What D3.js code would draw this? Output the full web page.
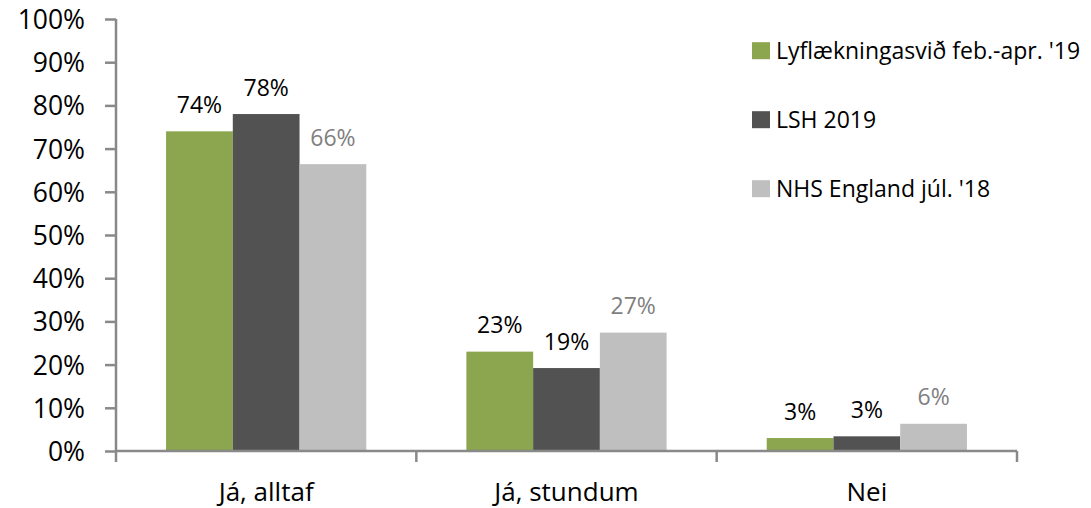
<!DOCTYPE html>
<html>
<head>
<meta charset="utf-8">
<script src="https://cdn.jsdelivr.net/npm/d3@7"></script>
<style>
  html, body { margin: 0; padding: 0; background: #fff; }
  svg { display: block; }
  text { font-family: "Open Sans", sans-serif; }
</style>
</head>
<body>
<svg id="chart" width="1091" height="508"></svg>
<script>
const categories = ["Já, alltaf", "Já, stundum", "Nei"];
const seriesNames = ["Lyflækningasvið feb.-apr. '19", "LSH 2019", "NHS England júl. '18"];
const seriesLyf = [0.74, 0.23, 0.03];
const seriesLSH = [0.78, 0.192, 0.034];
const seriesNHS = [0.664, 0.274, 0.063];
const yTicks = [0, 0.1, 0.2, 0.3, 0.4, 0.5, 0.6, 0.7, 0.8, 0.9, 1.0];

const seriesValues = [seriesLyf, seriesLSH, seriesNHS];
const colors = ["#8BA64E", "#525252", "#BFBFBF"];
const labelColors = ["#000000", "#000000", "#7F7F7F"];
const axisColor = "#898989";

const svg = d3.select("#chart");
const mLeft = 116, mRight = 1017, mTop = 19, mBottom = 451;

const y = d3.scaleLinear().domain([0, 1]).range([mBottom, mTop]);
const x0 = d3.scaleBand().domain(categories).range([mLeft, mRight]).padding(0);
const bw = x0.bandwidth();
const x1 = d3.scaleBand().domain(d3.range(seriesNames.length)).range([bw / 6, bw * 5 / 6]).padding(0);

// bars
const groups = svg.append("g").selectAll("g").data(categories).join("g")
  .attr("transform", d => `translate(${x0(d)},0)`);

groups.each(function(cat, ci) {
  const g = d3.select(this);
  seriesValues.forEach((vals, si) => {
    const v = vals[ci];
    g.append("rect")
      .attr("x", x1(si))
      .attr("y", y(v))
      .attr("width", x1.bandwidth())
      .attr("height", y(0) - y(v))
      .attr("fill", colors[si]);
    g.append("text")
      .attr("x", x1(si) + x1.bandwidth() / 2)
      .attr("y", y(v) - 18.5)
      .attr("text-anchor", "middle")
      .attr("font-size", 23)
      .attr("fill", labelColors[si])
      .text(d3.format(".0%")(v));
  });
});

// y axis
const yAxis = d3.axisLeft(y).tickValues(yTicks).tickFormat(d3.format(".0%")).tickSize(11).tickPadding(20);
const ya = svg.append("g").attr("transform", `translate(${mLeft},0)`).call(yAxis);
ya.select(".domain").attr("stroke", axisColor).attr("stroke-width", 2.5).attr("d", `M0,${mTop}V${mBottom}`);
ya.selectAll(".tick line").attr("stroke", axisColor).attr("stroke-width", 2.5);
ya.selectAll(".tick text").attr("font-size", 26.5).attr("fill", "#000").attr("font-family", "Open Sans").attr("dy", "0.36em");

// x axis
const xTickVals = [mLeft, ...categories.map(c => x0(c) + bw)];
const xa = svg.append("g").attr("transform", `translate(0,${mBottom})`);
xa.append("path").attr("d", `M${mLeft},0H${mRight}`).attr("stroke", axisColor).attr("stroke-width", 2.5).attr("fill", "none");
xa.selectAll("line.t").data(xTickVals).join("line").attr("class", "t")
  .attr("x1", d => d).attr("x2", d => d).attr("y1", 0).attr("y2", 11)
  .attr("stroke", axisColor).attr("stroke-width", 2.5);
xa.selectAll("text").data(categories).join("text")
  .attr("x", d => x0(d) + bw / 2)
  .attr("y", 50)
  .attr("text-anchor", "middle")
  .attr("font-size", 26)
  .attr("fill", "#000")
  .text(d => d);

// legend
const legend = svg.append("g").selectAll("g").data(seriesNames).join("g")
  .attr("transform", (d, i) => `translate(752,${50.7 + i * 69})`);
legend.append("rect").attr("x", 0).attr("y", -8.5).attr("width", 18).attr("height", 17)
  .attr("fill", (d, i) => colors[i]);
legend.append("text").attr("x", 24).attr("y", 0).attr("dy", "0.36em")
  .attr("font-size", 23).attr("fill", "#000").text(d => d);
</script>
</body>
</html>
